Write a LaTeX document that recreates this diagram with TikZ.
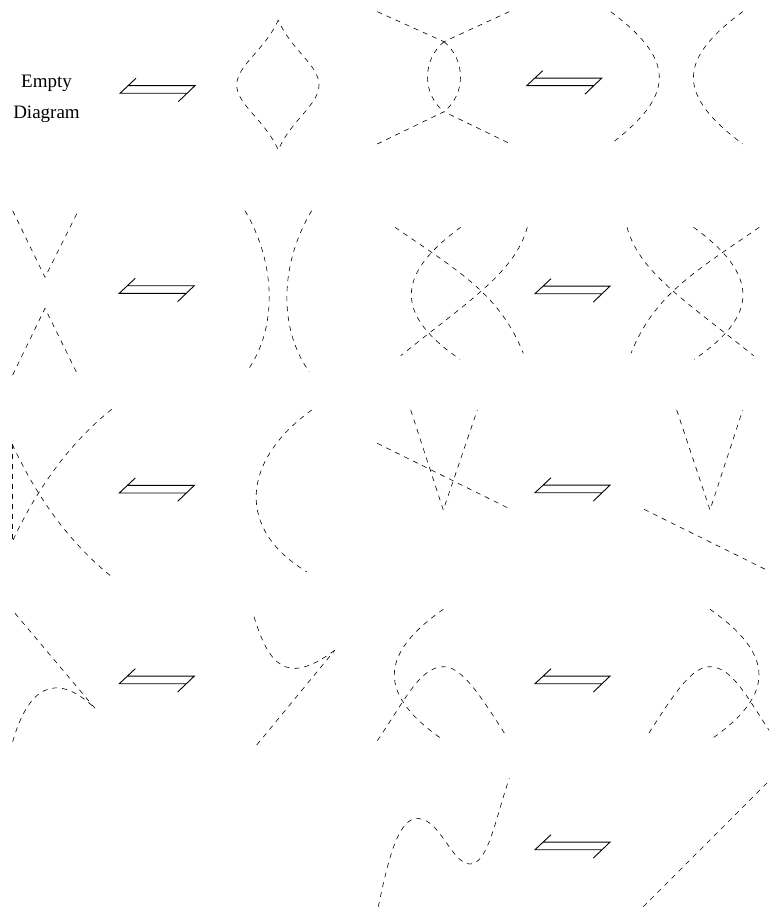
\documentclass[tikz,border=0pt]{standalone}
\usepackage{fontspec}
\setmainfont{Liberation Serif}
\tikzset{
  strand/.style={dash pattern=on 5pt off 5pt, line width=0.6pt},
  emptytext/.style={anchor=base, inner sep=0pt, font=\fontsize{19}{23}\selectfont},
  movearrow/.pic={\draw[line width=0.9pt] (16,-15) -- (0,0) -- (67.1,0) (7.9,-7.6) -- (75,-7.6) -- (58.3,8.4);}
}
\begin{document}
\begin{tikzpicture}[x=1pt,y=-1pt]
        \useasboundingbox (0,0) rectangle (769,909);
        \clip (0,0) rectangle (769,909);
        \node (empty) [emptytext] at (46.5,87.7) {Empty};
        \node (diagram) [emptytext] at (46.5,119) {Diagram};
        \pic at (120,93.3) {movearrow};
        \draw[strand] (278.3,20) .. controls (265,50) and (237,65) .. (236.7,85) .. controls (237,105) and (265,120) .. (278.3,150) .. controls (291,120) and (319,105) .. (319,85) .. controls (319,65) and (291,50) .. (278.3,20);
        \draw[strand] (377.3,11.7) -- (444,41.7) -- (510.7,11);
        \draw[strand] (377.3,144) -- (444,111.7) -- (510.7,144);
        \draw[strand] (444,41.7) .. controls (422,60) and (422,94) .. (444,111.7);
        \draw[strand] (444,41.7) .. controls (466,60) and (466,94) .. (444,111.7);
        \pic at (526.7,85.7) {movearrow};
        \draw[strand] (610.7,11.7) .. controls (675.5,60) and (675.5,95) .. (610.7,144);
        \draw[strand] (742.7,11.7) .. controls (677,60) and (677,95) .. (742.7,144);
        \draw[strand] (12.7,210.7) -- (45,277.3) -- (78.3,210.7);
        \draw[strand] (12.7,375) -- (45,308.3) -- (78.3,376);
        \pic at (119.3,293.3) {movearrow};
        \draw[strand] (245,210.7) .. controls (277,265) and (277,330) .. (246.7,371.7);
        \draw[strand] (311.7,210.7) .. controls (279,265) and (279,330) .. (309.3,371.7);
        \draw[strand] (395,227.3) .. controls (460,272) and (500,295) .. (523.3,353.3);
        \draw[strand] (460.7,227.3) .. controls (395,275) and (395,315) .. (460,359.3);
        \draw[strand] (527.3,227.3) .. controls (515,272) and (470,300) .. (400.7,355.7);
        \pic at (535,293.7) {movearrow};
        \draw[strand] (759.3,227.3) .. controls (694.3,272) and (654.3,295) .. (631,353.3);
        \draw[strand] (693.6,227.3) .. controls (759.3,275) and (759.3,315) .. (694.3,359.3);
        \draw[strand] (627,227.3) .. controls (639.3,272) and (684.3,300) .. (753.6,355.7);
        \draw[strand] (12.3,444.3) -- (12.3,541.7);
        \draw[strand] (12.3,444.3) .. controls (38,500) and (72,545) .. (111.7,576.7);
        \draw[strand] (111.7,409.3) .. controls (72,441) and (38,486) .. (12.3,541.7);
        \pic at (119.3,493) {movearrow};
        \draw[strand] (311.7,410) .. controls (240,462) and (237,530) .. (306.7,571.7);
        \draw[strand] (377.3,443.3) -- (510.7,509.3);
        \draw[strand] (410.7,410) -- (443.3,510) -- (477.3,410);
        \pic at (535,492.7) {movearrow};
        \draw[strand] (676.7,410) -- (710,510) -- (742.7,410);
        \draw[strand] (644,509.3) -- (777.4,575.3);
        \draw[strand] (15,613.3) -- (95,708.3);
        \draw[strand] (12.7,741.7) .. controls (28,688) and (55,670) .. (95,708.3);
        \pic at (119.3,683.7) {movearrow};
        \draw[strand] (254,616.7) .. controls (268,662) and (285,688) .. (335,650);
        \draw[strand] (256.7,745) -- (335,650);
        \draw[strand] (443.3,609.3) .. controls (378,655) and (378,695) .. (443.3,740);
        \draw[strand] (377.3,740.7) .. controls (405,700) and (420,667) .. (443.3,666.7) .. controls (462,666.5) and (480,695) .. (506.7,736.7);
        \pic at (535,683.7) {movearrow};
        \draw[strand] (710,609.3) .. controls (775.3,655) and (775.3,695) .. (710,740);
        \draw[strand] (776,740.7) .. controls (748.3,700) and (733.3,667) .. (710,666.7) .. controls (691.3,666.5) and (673.3,695) .. (646.6,736.7);
        \draw[strand] (378.3,906.7) .. controls (390,850) and (400,818) .. (418,818.5) .. controls (440,819) and (452,864) .. (470,864) .. controls (488,864) and (495,820) .. (509.3,778.3);
        \pic at (535,849.7) {movearrow};
        \draw[strand] (643.3,906.7) -- (775,775);
    \end{tikzpicture}
\end{document}
